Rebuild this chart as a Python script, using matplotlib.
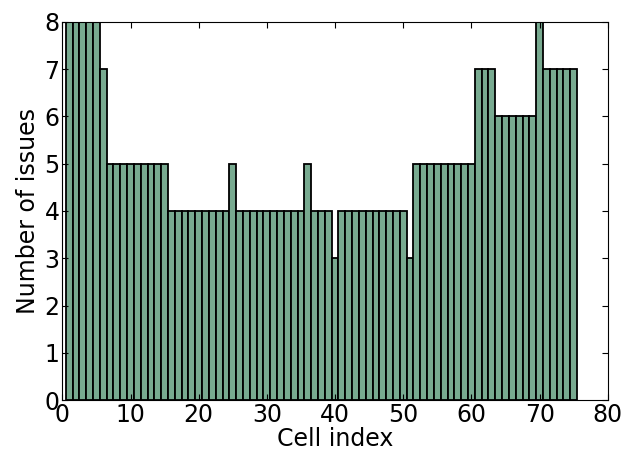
import matplotlib
matplotlib.use('Agg')
import matplotlib.pyplot as plt

# --> Issues counted per cell
cells = list(range(1, 76))
issues = ([8] * 5 + [7] + [5] * 9 + [4] * 9 + [5] + [4] * 10 + [5] + [4] * 3 + [3]
          + [4] * 10 + [3] + [5] * 9 + [7] * 3 + [6] * 6 + [8] + [7] * 5)

# --> Plot
fig = plt.figure(figsize=(6.27, 4.57), dpi=100)
ax = fig.add_axes([0.0994, 0.1247, 0.8700, 0.8272])
ax.bar(cells, issues, width=1.0, align='center', color='#78aa90', edgecolor='black', linewidth=1.3)

ax.set_xlim(0, 80)
ax.set_ylim(0, 8)
ax.set_xticks(range(0, 81, 10))
ax.set_yticks(range(0, 9))
ax.tick_params(direction='in', top=True, right=True, length=4, labelsize=17, pad=2)
ax.set_xlabel('Cell index', fontsize=17, labelpad=0)
ax.set_ylabel('Number of issues', fontsize=17, labelpad=3)

fig.savefig('out.png', dpi=100)
